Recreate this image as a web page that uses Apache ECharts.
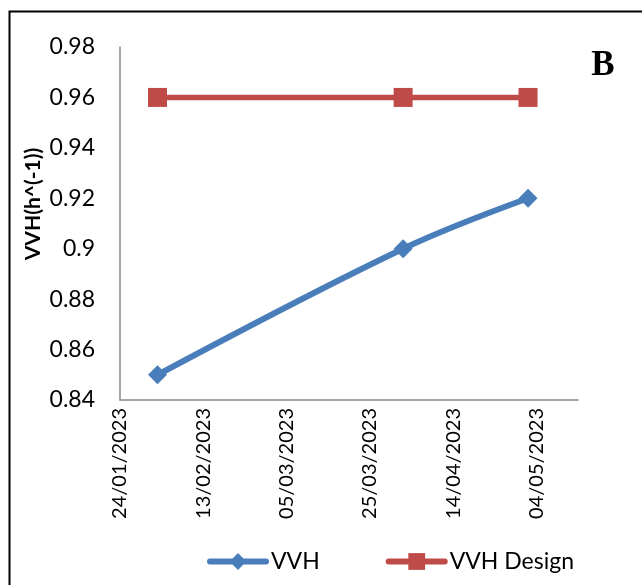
<!DOCTYPE html>
<html>
<head>
<meta charset="utf-8">
<script src="https://cdn.jsdelivr.net/npm/echarts@6/dist/echarts.min.js"></script>
<style>
  html, body { margin: 0; padding: 0; background: #ffffff; }
  #chart { width: 642px; height: 585px; }
</style>
</head>
<body>
<div id="chart"></div>
<script>
// Sampling dates (UTC) and measured / design space velocity values
const sampleDates = ['2023-02-02', '2023-04-02', '2023-05-02'];
const vvhValues = [0.85, 0.90, 0.92];
const vvhDesignValues = [0.96, 0.96, 0.96];
const seriesNames = ['VVH', 'VVH Design'];

// Axis ranges
const xStart = '2023-01-24';
const xEnd = '2023-05-14';
const xStepDays = 20;
const yMin = 0.84, yMax = 0.98, yStep = 0.02;

const DAY = 86400000;
function toUTC(s) {
  const [y, m, d] = s.split('-').map(Number);
  return Date.UTC(y, m - 1, d);
}
function fmtDate(ms) {
  const d = new Date(ms);
  const dd = String(d.getUTCDate()).padStart(2, '0');
  const mm = String(d.getUTCMonth() + 1).padStart(2, '0');
  return dd + '/' + mm + '/' + d.getUTCFullYear();
}

const vvhData = sampleDates.map((s, i) => [toUTC(s), vvhValues[i]]);
const designData = sampleDates.map((s, i) => [toUTC(s), vvhDesignValues[i]]);

const FONT = 'Lato';
const BLUE = '#4A7EBB';
const RED = '#BE4B48';
const chart = echarts.init(document.getElementById('chart'), null, { renderer: 'canvas' });

chart.setOption({
  backgroundColor: '#ffffff',
  animation: false,
  grid: {
    left: 120, right: 64, top: 47, bottom: 185,
    containLabel: false,
    outerBoundsMode: 'none'
  },
  xAxis: {
    type: 'value',
    min: toUTC(xStart),
    max: toUTC(xEnd),
    interval: xStepDays * DAY,
    axisLine: { show: true, lineStyle: { color: '#898989', width: 1.5 } },
    axisTick: { show: false },
    splitLine: { show: false },
    axisLabel: {
      rotate: 90,
      margin: 8,
      showMaxLabel: false,
      color: '#000000',
      fontFamily: FONT,
      fontSize: 20,
      formatter: v => fmtDate(v)
    }
  },
  yAxis: {
    type: 'value',
    min: yMin,
    max: yMax,
    interval: yStep,
    axisLine: { show: true, lineStyle: { color: '#898989', width: 1.5 } },
    axisTick: { show: false },
    splitLine: { show: false },
    axisLabel: {
      margin: 25,
      color: '#000000',
      fontFamily: FONT,
      fontSize: 23
    }
  },
  legend: {
    left: 207,
    top: 550,
    padding: 0,
    itemWidth: 56,
    itemHeight: 21,
    itemGap: 66,
    textStyle: { color: '#000000', fontFamily: FONT, fontSize: 23 },
    data: [
      { name: seriesNames[0], itemStyle: { color: BLUE }, lineStyle: { color: BLUE, width: 6, cap: 'round' } },
      { name: seriesNames[1], itemStyle: { color: RED }, lineStyle: { color: RED, width: 6, cap: 'round' } }
    ]
  },
  series: [
    {
      name: seriesNames[0],
      type: 'line',
      data: vvhData,
      smooth: 0.35,
      symbol: 'diamond',
      symbolSize: 19,
      color: BLUE,
      lineStyle: { color: BLUE, width: 6 },
      itemStyle: { color: BLUE }
    },
    {
      name: seriesNames[1],
      type: 'line',
      data: designData,
      symbol: 'rect',
      symbolSize: 19,
      color: RED,
      lineStyle: { color: RED, width: 5.5 },
      itemStyle: { color: RED }
    }
  ],
  graphic: [
    {
      type: 'rect',
      silent: true,
      shape: { x: 9.5, y: 11.5, width: 700, height: 700 },
      style: { fill: 'none', stroke: '#000000', lineWidth: 2 },
      z: 100
    },
    {
      type: 'text',
      x: 33, y: 204,
      rotation: Math.PI / 2,
      style: {
        text: 'VVH(h^(-1))',
        fontFamily: FONT,
        fontWeight: 'bold',
        fontSize: 21,
        fill: '#000000',
        align: 'center',
        verticalAlign: 'middle'
      }
    },
    {
      type: 'text',
      x: 603, y: 66,
      style: {
        text: 'B',
        fontFamily: 'Liberation Serif',
        fontWeight: 'bold',
        fontSize: 35,
        fill: '#000000',
        align: 'center',
        verticalAlign: 'middle'
      }
    }
  ]
});
</script>
</body>
</html>
